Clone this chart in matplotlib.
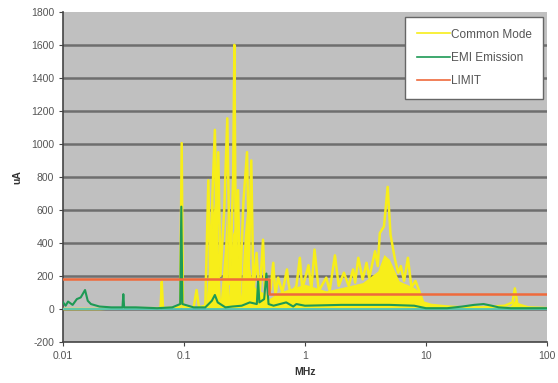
import matplotlib
matplotlib.use("Agg")
import matplotlib.pyplot as plt
from matplotlib.ticker import FixedLocator, NullLocator

plt.rcParams['font.family'] = ['Liberation Sans', 'DejaVu Sans']
plt.rcParams['axes.unicode_minus'] = False

# Common Mode (MHz, uA)
common_mode = [
    (0.01, 0), (0.02, 0), (0.03, 5), (0.05, 5), (0.064, 5), (0.0655, 165), (0.067, 5),
    (0.093, 10), (0.0957, 1005), (0.098, 10), (0.12, 10), (0.127, 115), (0.133, 10),
    (0.15, 20), (0.159, 780), (0.165, 150), (0.172, 700), (0.18, 1085), (0.186, 400),
    (0.192, 950), (0.2, 200), (0.215, 600), (0.228, 1155), (0.24, 150), (0.255, 800),
    (0.261, 1600), (0.268, 300), (0.28, 720), (0.29, 100), (0.31, 650), (0.332, 950),
    (0.345, 300), (0.36, 900), (0.375, 100), (0.398, 340), (0.42, 60), (0.45, 420),
    (0.47, 40), (0.52, 120), (0.547, 280), (0.57, 80), (0.6, 190), (0.65, 100), (0.71, 240),
    (0.728, 165), (0.76, 90), (0.85, 140), (0.907, 310), (0.95, 120), (1.07, 265),
    (1.13, 120), (1.2, 360), (1.3, 110), (1.5, 190), (1.6, 110), (1.77, 325), (1.9, 140),
    (2.1, 220), (2.3, 140), (2.5, 240), (2.6, 160), (2.76, 310), (3.0, 180), (3.23, 280),
    (3.4, 190), (3.8, 350), (4.0, 260), (4.16, 460), (4.5, 500), (4.83, 740), (5.1, 450),
    (5.55, 300), (5.9, 220), (6.2, 260), (6.6, 170), (7.1, 310), (7.6, 130), (8.2, 170),
    (8.9, 100), (9.5, 40), (11, 25), (15, 15), (20, 10), (30, 10), (45, 20), (52, 40),
    (54.4, 125), (57, 30), (70, 10), (100, 5),
]
# dense bands under the common mode trace
cm_band_freq = [0.15, 0.16, 0.175, 0.19, 0.2, 0.215, 0.225, 0.235, 0.25, 0.265, 0.28,
                0.295, 0.315, 0.33, 0.35, 0.37, 0.4, 0.45, 0.5, 0.6, 0.8, 1.0, 1.5, 2,
                3, 4, 4.5, 5, 6, 8, 9, 9.5, 12, 20, 40, 50, 55, 60, 80, 100]
cm_band_val = [0, 250, 650, 450, 60, 350, 600, 80, 450, 500, 350, 80, 450, 600, 250,
               150, 120, 100, 60, 100, 130, 150, 110, 130, 160, 230, 330, 300, 170,
               130, 100, 40, 25, 15, 10, 20, 60, 20, 5, 0]

emi_freq = [0.01, 0.0105, 0.011, 0.012, 0.013, 0.014, 0.0152, 0.016, 0.017, 0.02,
            0.025, 0.031, 0.0315, 0.032, 0.04, 0.06, 0.08, 0.093, 0.095, 0.097,
            0.12, 0.15, 0.17, 0.18, 0.19, 0.22, 0.25, 0.3, 0.35, 0.4,
            0.41, 0.42, 0.46, 0.48, 0.5, 0.55, 0.7, 0.8, 0.85, 1,
            2, 5, 8, 10, 15, 20, 25, 30, 35, 40, 50, 70, 100]
emi_val = [40, 20, 45, 25, 60, 70, 115, 50, 30, 15,
           10, 10, 90, 10, 10, 5, 10, 30, 620, 30,
           10, 10, 50, 85, 40, 10, 15, 20, 40, 30,
           175, 40, 60, 215, 30, 20, 40, 15, 30, 20,
           25, 25, 20, 5, 5, 15, 25, 30, 20, 10, 5, 5, 5]

limit_freq = [0.01, 0.5, 0.5, 100]
limit_val = [180, 180, 90, 90]

x_ticks = [0.01, 0.1, 1, 10, 100]
x_labels = ["0.01", "0.1", "1", "10", "100"]
y_ticks = list(range(-200, 1801, 200))

cm_f = [p[0] for p in common_mode]
cm_v = [p[1] for p in common_mode]

fig = plt.figure(figsize=(5.58, 3.83), dpi=100)
ax = fig.add_axes([0.113, 0.107, 0.867, 0.862])
ax.set_facecolor("#c0c0c0")

ax.set_xscale("log")
ax.set_xlim(0.01, 100)
ax.set_ylim(-200, 1800)

for y in y_ticks[1:-1]:
    ax.axhline(y, color="#6e6e6e", lw=1.8, zorder=1)

yellow = "#f7ee1a"
ax.fill_between(cm_band_freq, 0, cm_band_val, color=yellow, lw=0, zorder=2)
ax.plot(cm_f, cm_v, color=yellow, lw=1.8, zorder=3, label="Common Mode")
ax.axhline(0, color="#4fc4b8", lw=1.3, zorder=4)
ax.plot(emi_freq, emi_val, color="#1e9a55", lw=1.5, zorder=5, label="EMI Emission")
ax.plot(limit_freq, limit_val, color="#ef6a3c", lw=1.8, zorder=6, label="LIMIT")

ax.xaxis.set_major_locator(FixedLocator(x_ticks))
ax.xaxis.set_minor_locator(NullLocator())
ax.set_xticklabels(x_labels)
ax.set_yticks(y_ticks)
ax.tick_params(axis="both", labelsize=7.5, colors="#555555", length=3, direction="out")
ax.tick_params(axis="both", color="#444444")

for s in ["top", "right"]:
    ax.spines[s].set_visible(False)
ax.spines["left"].set_color("#444444")
ax.spines["bottom"].set_color("#444444")
ax.spines["left"].set_linewidth(1.2)
ax.spines["bottom"].set_linewidth(1.2)

ax.set_xlabel("MHz", fontsize=7.5, fontweight="bold", color="#333333", labelpad=4)
ax.set_ylabel("uA", fontsize=7.5, fontweight="bold", color="#333333", labelpad=6)

leg = ax.legend(loc="upper right", bbox_to_anchor=(0.993, 0.985), fontsize=8.5,
                frameon=True, fancybox=False, handlelength=2.8, handletextpad=0.1,
                labelspacing=0.95, borderpad=1.0, borderaxespad=0)
leg.get_frame().set_edgecolor("#666666")
leg.get_frame().set_facecolor("white")
leg.get_frame().set_alpha(1)
for t in leg.get_texts():
    t.set_color("#555555")
for h in leg.get_lines():
    h.set_linewidth(1.2)

fig.savefig("out.png", dpi=100)
